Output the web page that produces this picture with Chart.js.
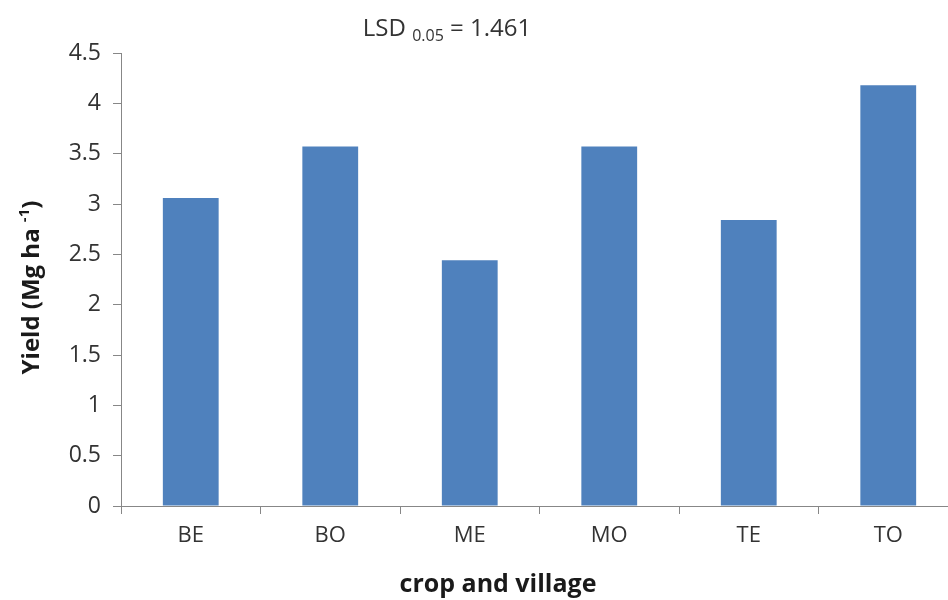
<!DOCTYPE html>
<html lang="en">
<head>
<meta charset="UTF-8">
<title>Yield by crop and village</title>
<script src="https://cdn.jsdelivr.net/npm/chart.js@4.4.0/dist/chart.umd.min.js"></script>
<style>
    html, body { margin: 0; padding: 0; background: #fff; overflow: hidden; }
    #wrap { width: 960px; height: 600px; }
</style>
</head>
<body>
<div id="wrap"><canvas id="yieldChart" width="960" height="600"></canvas></div>
<script>
    // values
    var categories = ['BE', 'BO', 'ME', 'MO', 'TE', 'TO'];
    var yieldValues = [3.06, 3.57, 2.44, 3.57, 2.84, 4.18];
    var yMin = 0, yMax = 4.5, yStep = 0.5;
    var lsdLabel = '0.05';
    var lsdValue = '1.461';

    var font = "'Open Sans', 'Noto Sans', sans-serif";

    // titles drawn by hand so the sub/superscripts come out right
    var titlesPlugin = {
        id: 'titles',
        afterDraw: function(chart) {
            var ctx = chart.ctx;
            var area = chart.chartArea;
            ctx.save();
            ctx.fillStyle = '#333333';
            ctx.textBaseline = 'alphabetic';

            // LSD title
            var big = '24px ' + font, small = '16px ' + font;
            ctx.font = big;
            var w1 = ctx.measureText('LSD ').width;
            var w3 = ctx.measureText(' = ' + lsdValue).width;
            ctx.font = small;
            var w2 = ctx.measureText(lsdLabel).width;
            var x = 447 - (w1 + w2 + w3) / 2;
            var base = 36;
            ctx.font = big;
            ctx.fillText('LSD ', x, base);
            ctx.font = small;
            ctx.fillText(lsdLabel, x + w1, base + 5);
            ctx.font = big;
            ctx.fillText(' = ' + lsdValue, x + w1 + w2, base);

            // x title
            ctx.fillStyle = '#1a1a1a';
            ctx.font = 'bold 25px ' + font;
            ctx.textAlign = 'center';
            ctx.fillText('crop and village', 498, 592);

            // y title, rotated
            ctx.translate(39, (area.top + area.bottom) / 2 + 8);
            ctx.rotate(-Math.PI / 2);
            ctx.textAlign = 'left';
            var yb = 'bold 24px ' + font, ys = 'bold 15px ' + font;
            ctx.font = yb;
            var a = ctx.measureText('Yield (Mg ha ').width;
            var c = ctx.measureText(')').width;
            ctx.font = ys;
            var b = ctx.measureText('-1').width;
            var sx = -(a + b + c) / 2;
            ctx.font = yb;
            ctx.fillText('Yield (Mg ha ', sx, 0);
            ctx.font = ys;
            ctx.fillText('-1', sx + a, -10);
            ctx.font = yb;
            ctx.fillText(')', sx + a + b, 0);
            ctx.restore();
        }
    };

    const ctx1 = document.getElementById('yieldChart');
    new Chart(ctx1, {
        type: 'bar',
        data: {
            labels: categories,
            datasets: [{
                data: yieldValues,
                backgroundColor: '#4F81BD',
                borderWidth: 0,
                barPercentage: 0.4,
                categoryPercentage: 1.0
            }]
        },
        options: {
            responsive: false,
            animation: false,
            layout: { padding: { top: 53, right: 2, left: 0, bottom: 0 } },
            plugins: {
                legend: { display: false },
                tooltip: { enabled: false }
            },
            scales: {
                x: {
                    afterFit: function(scale) { scale.height = 94; },
                    grid: {
                        offset: true,
                        drawOnChartArea: false,
                        drawTicks: true,
                        tickLength: 8,
                        color: '#878787'
                    },
                    border: { display: true, color: '#878787', width: 1 },
                    ticks: {
                        color: '#333333',
                        padding: 9,
                        font: { family: font, size: 22 }
                    }
                },
                y: {
                    min: yMin,
                    max: yMax,
                    afterFit: function(scale) { scale.width = 121; },
                    grid: {
                        drawOnChartArea: false,
                        drawTicks: true,
                        tickLength: 8,
                        color: '#878787'
                    },
                    border: { display: true, color: '#878787', width: 1 },
                    ticks: {
                        stepSize: yStep,
                        color: '#333333',
                        padding: 12,
                        font: { family: font, size: 23 },
                        callback: function(v) { return String(v); }
                    }
                }
            }
        },
        plugins: [titlesPlugin]
    });
</script>
</body>
</html>
